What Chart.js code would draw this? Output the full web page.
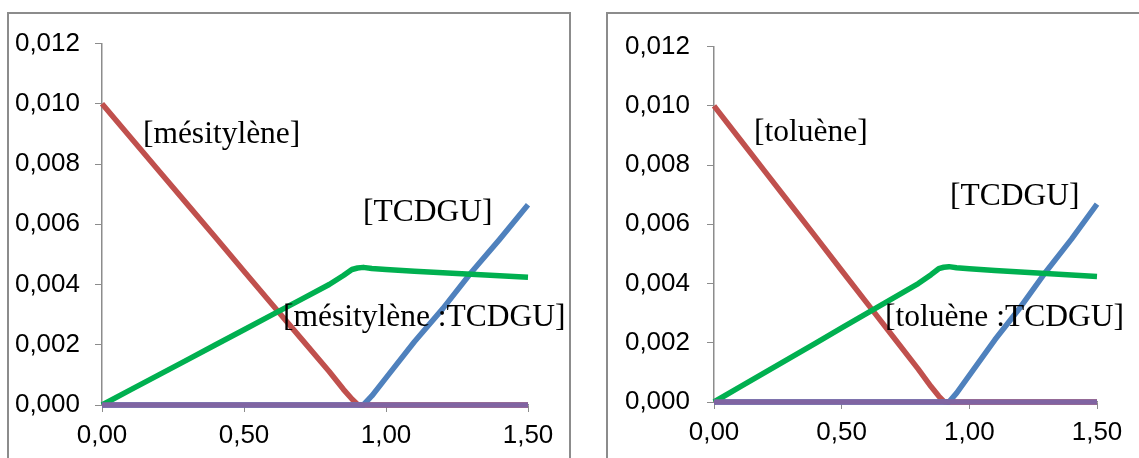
<!DOCTYPE html>
<html lang="fr">
  <head>
    <meta charset="UTF-8" />
    <title>Concentrations</title>
    <script src="https://cdn.jsdelivr.net/npm/chart.js"></script>
    <style>
      body {
        margin: 0;
        background: #ffffff;
        width: 1139px;
        height: 458px;
        overflow: hidden;
        position: relative;
      }
      .panel {
        position: absolute;
        border: 2px solid #8c8c8c;
        box-sizing: border-box;
      }
      canvas {
        position: absolute;
      }
    </style>
  </head>
  <body>
    <div class="panel" style="left: 7px; top: 12px; width: 564px; height: 460px"></div>
    <div class="panel" style="left: 606px; top: 12px; width: 600px; height: 460px"></div>
    <canvas id="chartMes" width="562" height="445" style="left: 8px; top: 13px"></canvas>
    <canvas id="chartTol" width="532" height="444" style="left: 607px; top: 14px"></canvas>

    <script>
      // abscisse commune (équivalents)
      const xValues = [0, 0.1, 0.2, 0.3, 0.4, 0.5, 0.6, 0.7, 0.8, 0.85, 0.88, 0.9, 0.92, 0.95, 1.0, 1.1, 1.2, 1.3, 1.4, 1.5];
      const xTicks = [0, 0.5, 1.0, 1.5];
      const yTicks = [0, 0.002, 0.004, 0.006, 0.008, 0.01, 0.012];

      // graphe de gauche : mésitylène
      const mesitylene = [0.01, 0.00889, 0.00778, 0.00667, 0.00556, 0.00444, 0.00333, 0.00222, 0.00111, 0.00052, 0.0002, 0.00002, 0, 0, 0, 0, 0, 0, 0, 0];
      const tcdguMes = [0, 0, 0, 0, 0, 0, 0, 0, 0, 0, 0, 0, 0, 0.0003, 0.0009, 0.0021, 0.0032, 0.0044, 0.0055, 0.00665];
      const complexeMes = [0, 0.0005, 0.001, 0.0015, 0.002, 0.0025, 0.003, 0.0035, 0.004, 0.0043, 0.0045, 0.00455, 0.00457, 0.00453, 0.0045, 0.00444, 0.00439, 0.00434, 0.00429, 0.00424];
      const autreMes = [0, 0, 0, 0, 0, 0, 0, 0, 0, 0, 0, 0, 0, 0, 0, 0, 0, 0, 0, 0];
      const labelsMes = ["[mésitylène]", "[TCDGU]", "[mésitylène :TCDGU]"];
      const labelXMes = [0.144, 0.919, 0.637];
      const labelYMes = [0.0087, 0.0061, 0.00263];

      // graphe de droite : toluène
      const toluene = [0.01, 0.00889, 0.00778, 0.00667, 0.00556, 0.00444, 0.00333, 0.00222, 0.00111, 0.00052, 0.0002, 0.00002, 0, 0, 0, 0, 0, 0, 0, 0];
      const tcdguTol = [0, 0, 0, 0, 0, 0, 0, 0, 0, 0, 0, 0, 0, 0.0003, 0.0009, 0.0021, 0.0032, 0.0044, 0.0055, 0.00668];
      const complexeTol = [0, 0.0005, 0.001, 0.0015, 0.002, 0.0025, 0.003, 0.0035, 0.004, 0.0043, 0.0045, 0.00455, 0.00457, 0.00453, 0.0045, 0.00444, 0.00439, 0.00434, 0.00429, 0.00424];
      const autreTol = [0, 0, 0, 0, 0, 0, 0, 0, 0, 0, 0, 0, 0, 0, 0, 0, 0, 0, 0, 0];
      const labelsTol = ["[toluène]", "[TCDGU]", "[toluène :TCDGU]"];
      const labelXTol = [0.157, 0.924, 0.67];
      const labelYTol = [0.0088, 0.00665, 0.00257];

      const pts = (ys) => xValues.map((x, i) => ({ x: x, y: ys[i] }));

      function serie(data, color, order) {
        return {
          data: pts(data),
          borderColor: color,
          borderWidth: 5.5,
          pointRadius: 0,
          tension: 0,
          borderJoinStyle: "round",
          borderCapStyle: "butt",
          clip: false,
          order: order,
        };
      }

      // étiquettes dans le graphe, ancrées en coordonnées de données
      function etiquettes(textes, xs, ys) {
        return {
          id: "etiquettes",
          afterDatasetsDraw(chart) {
            const ctx = chart.ctx;
            ctx.save();
            ctx.font = "31.5px 'Liberation Serif'";
            ctx.fillStyle = "#000";
            ctx.textAlign = "left";
            ctx.textBaseline = "alphabetic";
            textes.forEach((t, i) => {
              ctx.fillText(t, chart.scales.x.getPixelForValue(xs[i]), chart.scales.y.getPixelForValue(ys[i]));
            });
            ctx.restore();
          },
        };
      }

      function dessiner(id, series, textes, xs, ys, yWidth, xHeight, padTop, yPad) {
        new Chart(document.getElementById(id), {
          type: "line",
          data: {
            datasets: [
              serie(series[0], "#C0504D", 3),
              serie(series[1], "#4F81BD", 2),
              serie(series[2], "#00B050", 1),
              serie(series[3], "#8064A2", 0),
            ],
          },
          options: {
            responsive: false,
            animation: false,
            layout: { padding: { top: padTop, right: 42, left: 0, bottom: 0 } },
            plugins: { legend: { display: false }, tooltip: { enabled: false } },
            scales: {
              x: {
                type: "linear",
                min: 0,
                max: 1.5,
                afterBuildTicks: (s) => {
                  s.ticks = xTicks.map((v) => ({ value: v }));
                },
                afterFit: (s) => {
                  s.height = xHeight;
                },
                grid: { drawOnChartArea: false, drawTicks: true, tickLength: 7, color: "#8c8c8c" },
                border: { display: true, color: "#8c8c8c", width: 1.5 },
                ticks: {
                  color: "#000",
                  padding: 8,
                  maxRotation: 0,
                  font: { family: "'Liberation Sans'", size: 26 },
                  callback: (v) => v.toFixed(2).replace(".", ","),
                },
              },
              y: {
                type: "linear",
                min: 0,
                max: 0.012,
                afterBuildTicks: (s) => {
                  s.ticks = yTicks.map((v) => ({ value: v }));
                },
                afterFit: (s) => {
                  s.width = yWidth;
                },
                grid: { drawOnChartArea: false, drawTicks: true, tickLength: 7, color: "#8c8c8c" },
                border: { display: true, color: "#8c8c8c", width: 1.5 },
                ticks: {
                  color: "#000",
                  padding: yPad,
                  font: { family: "'Liberation Sans'", size: 26 },
                  callback: (v) => v.toFixed(3).replace(".", ","),
                },
              },
            },
          },
          plugins: [etiquettes(textes, xs, ys)],
        });
      }

      dessiner("chartMes", [mesitylene, tcdguMes, complexeMes, autreMes], labelsMes, labelXMes, labelYMes, 94, 53, 18, 15);
      dessiner("chartTol", [toluene, tcdguTol, complexeTol, autreTol], labelsTol, labelXTol, labelYTol, 107, 56, 29, 17);
    </script>
  </body>
</html>
